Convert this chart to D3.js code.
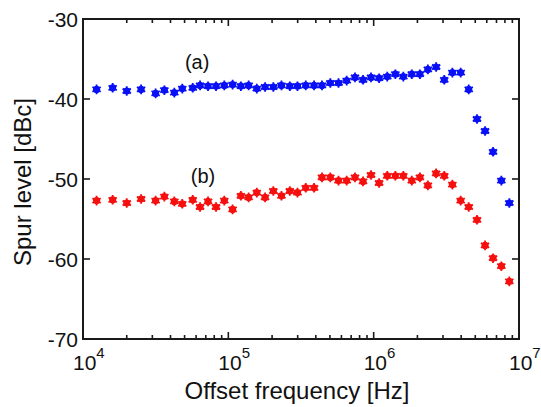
<!DOCTYPE html>
<html>
<head>
<meta charset="utf-8">
<script src="https://cdn.jsdelivr.net/npm/d3@7"></script>
<style>
  html, body { margin: 0; padding: 0; background: #fff; }
  svg { display: block; font-family: "Liberation Sans", Arial, Helvetica, sans-serif; }
</style>
</head>
<body>
<svg id="chart" width="541" height="407"></svg>
<script>
// Offset frequencies (Hz) shared by both measured traces
const freq = [
  1.24e4, 1.60e4, 2.00e4, 2.51e4, 3.16e4, 3.63e4, 4.25e4, 4.82e4, 5.69e4, 6.39e4,
  7.25e4, 8.23e4, 9.38e4, 1.07e5, 1.22e5, 1.38e5, 1.57e5, 1.79e5, 2.04e5, 2.32e5,
  2.65e5, 2.99e5, 3.41e5, 3.89e5, 4.41e5, 5.03e5, 5.73e5, 6.52e5, 7.44e5, 8.45e5,
  9.59e5, 1.09e6, 1.24e6, 1.41e6, 1.60e6, 1.83e6, 2.08e6, 2.36e6, 2.69e6, 3.06e6,
  3.48e6, 3.97e6, 4.51e6, 5.14e6, 5.84e6, 6.63e6, 7.56e6, 8.58e6
];
// Spur level (dBc), trace (a)
const spurA = [
  -38.8, -38.6, -39.0, -38.8, -39.3, -38.9, -39.2, -38.7, -38.6, -38.3,
  -38.4, -38.4, -38.3, -38.2, -38.4, -38.3, -38.7, -38.5, -38.5, -38.3,
  -38.4, -38.4, -38.3, -38.3, -38.3, -38.0, -38.0, -37.7, -37.3, -37.6,
  -37.3, -37.4, -37.2, -36.9, -37.2, -36.9, -36.9, -36.3, -36.0, -37.6,
  -36.7, -36.7, -38.8, -42.5, -44.0, -46.6, -50.2, -53.0
];
// Spur level (dBc), trace (b)
const spurB = [
  -52.7, -52.6, -53.0, -52.5, -52.7, -52.2, -52.8, -53.1, -52.6, -53.5,
  -52.8, -53.5, -52.7, -53.8, -52.1, -52.3, -51.7, -52.3, -51.5, -52.1,
  -51.5, -51.7, -51.1, -51.1, -49.8, -49.8, -50.2, -50.2, -49.8, -50.3,
  -49.5, -50.5, -49.6, -49.6, -49.6, -50.2, -49.8, -50.8, -49.3, -49.6,
  -50.7, -52.7, -53.5, -55.1, -58.3, -59.9, -60.9, -62.8
];
const xDomain = [1e4, 1e7];
const yDomain = [-70, -30];
const yTicks = [-70, -60, -50, -40, -30];
const xMajor = [1e4, 1e5, 1e6, 1e7];
const traceLabels = [
  { text: "(a)", f: 6.1e4, db: -36.25 },
  { text: "(b)", f: 6.7e4, db: -50.5 }
];

const svg = d3.select("#chart");
const m = { left: 83, right: 22, top: 19, bottom: 68 };
const W = 541, H = 407;
const x = d3.scaleLog().domain(xDomain).range([m.left, W - m.right]);
const y = d3.scaleLinear().domain(yDomain).range([H - m.bottom, m.top]);
const axisColor = "#1a1a1a";

// minor decade ticks
const xMinor = [];
for (let e = 4; e < 7; e++) for (let k = 2; k <= 9; k++) xMinor.push(k * Math.pow(10, e));

const g = svg.append("g");

// frame
g.append("rect")
  .attr("x", x(xDomain[0])).attr("y", y(yDomain[1]))
  .attr("width", x(xDomain[1]) - x(xDomain[0]))
  .attr("height", y(yDomain[0]) - y(yDomain[1]))
  .attr("fill", "none").attr("stroke", axisColor).attr("stroke-width", 2);

// inward ticks on all four sides
function ticks(vals, len) {
  vals.forEach(v => {
    const px = x(v);
    g.append("line").attr("x1", px).attr("x2", px)
      .attr("y1", y(yDomain[0])).attr("y2", y(yDomain[0]) - len)
      .attr("stroke", axisColor).attr("stroke-width", 1.6);
    g.append("line").attr("x1", px).attr("x2", px)
      .attr("y1", y(yDomain[1])).attr("y2", y(yDomain[1]) + len)
      .attr("stroke", axisColor).attr("stroke-width", 1.6);
  });
}
ticks(xMajor, 7);
ticks(xMinor, 4);
yTicks.forEach(v => {
  const py = y(v);
  g.append("line").attr("x1", x(xDomain[0])).attr("x2", x(xDomain[0]) + 7)
    .attr("y1", py).attr("y2", py).attr("stroke", axisColor).attr("stroke-width", 1.6);
  g.append("line").attr("x1", x(xDomain[1])).attr("x2", x(xDomain[1]) - 7)
    .attr("y1", py).attr("y2", py).attr("stroke", axisColor).attr("stroke-width", 1.6);
});

// y tick labels
g.selectAll(".ylab").data(yTicks).enter().append("text")
  .attr("x", x(xDomain[0]) - 5).attr("y", d => y(d))
  .attr("dy", "0.36em").attr("text-anchor", "end")
  .attr("font-size", 21).attr("fill", "#111")
  .text(d => d);

// x tick labels as powers of ten
xMajor.forEach(v => {
  const t = g.append("text")
    .attr("x", x(v) - 10).attr("y", 370)
    .attr("font-size", 21).attr("fill", "#111");
  t.append("tspan").text("10");
  t.append("tspan").attr("dy", -12).attr("font-size", 15).text(Math.round(Math.log10(v)));
});

// axis titles
svg.append("text")
  .attr("x", 297).attr("y", 399)
  .attr("text-anchor", "middle").attr("font-size", 24).attr("fill", "#111")
  .text("Offset frequency [Hz]");
svg.append("text")
  .attr("transform", `translate(31,${(y(yDomain[0]) + y(yDomain[1])) / 2 + 3}) rotate(-90)`)
  .attr("text-anchor", "middle").attr("font-size", 24).attr("fill", "#111")
  .text("Spur level [dBc]");

// star markers
const star = d3.symbol().type(d3.symbolAsterisk).size(64)();
function drawSeries(vals, color) {
  const s = g.append("g");
  const pts = s.selectAll("g").data(freq.map((f, i) => [f, vals[i]])).enter()
    .append("g").attr("transform", d => `translate(${x(d[0])},${y(d[1])})`);
  pts.append("circle").attr("r", 3.6).attr("fill", color);
  pts.append("path").attr("d", star).attr("fill", "none")
    .attr("stroke", color).attr("stroke-width", 1.8);
}
drawSeries(spurA, "#0a10f5");
drawSeries(spurB, "#f5100f");

// trace labels
g.selectAll(".tl").data(traceLabels).enter().append("text")
  .attr("x", d => x(d.f)).attr("y", d => y(d.db))
  .attr("text-anchor", "middle").attr("font-size", 20).attr("fill", "#111")
  .text(d => d.text);
</script>
</body>
</html>
